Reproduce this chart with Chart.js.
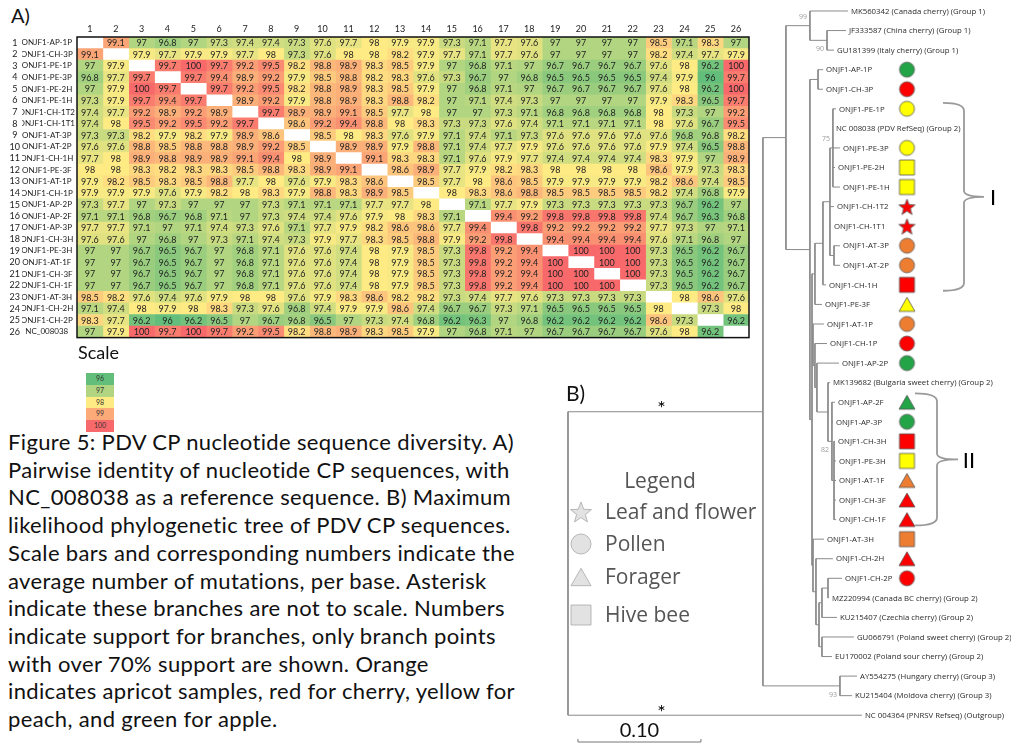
<!DOCTYPE html>
<html><head><meta charset="utf-8">
<script src="https://cdn.jsdelivr.net/npm/chart.js@4.4.1/dist/chart.umd.min.js"></script>
<style>
html,body{margin:0;padding:0;background:#fff;}
#page{position:relative;width:1011px;height:752px;overflow:hidden;background:#fff;font-family:Lato,sans-serif;color:#111;}
.abs{position:absolute;}
#cap{left:8px;top:428px;font-size:22px;letter-spacing:0.35px;line-height:27.7px;white-space:nowrap;}
#scale div{width:28px;height:11.8px;font-size:7px;line-height:11.8px;text-align:center;color:#333;}
</style></head><body>
<div id="page">
  <div class="abs" style="left:11px;top:3px;font-size:20px;">A)</div>
  <canvas id="heat" class="abs" width="756" height="325" style="left:0;top:20px;"></canvas>
  <div class="abs" style="left:78px;top:341px;font-size:18px;">Scale</div>
  <div id="scale" class="abs" style="left:86px;top:373px;"></div>
  <div id="cap" class="abs"></div>
  <canvas id="tree" class="abs" width="451" height="752" style="left:560px;top:0;"></canvas>
  <div class="abs" style="left:566px;top:380px;font-size:21px;">B)</div>
</div>
<script>
// ---------------- DATA ----------------
const rowNames = ['ONJF1-AP-1P','ONJF1-CH-3P','ONJF1-PE-1P','ONJF1-PE-3P','ONJF1-PE-2H','ONJF1-PE-1H','ONJF1-CH-1T2','ONJF1-CH-1T1','ONJF1-AT-3P','ONJF1-AT-2P','ONJF1-CH-1H','ONJF1-PE-3F','ONJF1-AT-1P','ONJF1-CH-1P','ONJF1-AP-2P','ONJF1-AP-2F','ONJF1-AP-3P','ONJF1-CH-3H','ONJF1-PE-3H','ONJF1-AT-1F','ONJF1-CH-3F','ONJF1-CH-1F','ONJF1-AT-3H','ONJF1-CH-2H','ONJF1-CH-2P','NC_008038'];
const rowNumbers = rowNames.map((_, i) => String(i + 1));
const colLabels = rowNames.map((_, i) => String(i + 1));
const identity = [
 [null,99.1,97,96.8,97,97.3,97.4,97.4,97.3,97.6,97.7,98,97.9,97.9,97.3,97.1,97.7,97.6,97,97,97,97,98.5,97.1,98.3,97],
 [99.1,null,97.9,97.7,97.9,97.9,97.7,98,97.3,97.6,98,98,98.2,97.9,97.7,97.1,97.7,97.6,97,97,97,97,98.2,97.4,97.7,97.9],
 [97,97.9,null,99.7,100,99.7,99.2,99.5,98.2,98.8,98.9,98.3,98.5,97.9,97,96.8,97.1,97,96.7,96.7,96.7,96.7,97.6,98,96.2,100],
 [96.8,97.7,99.7,null,99.7,99.4,98.9,99.2,97.9,98.5,98.8,98.2,98.3,97.6,97.3,96.7,97,96.8,96.5,96.5,96.5,96.5,97.4,97.9,96,99.7],
 [97,97.9,100,99.7,null,99.7,99.2,99.5,98.2,98.8,98.9,98.3,98.5,97.9,97,96.8,97.1,97,96.7,96.7,96.7,96.7,97.6,98,96.2,100],
 [97.3,97.9,99.7,99.4,99.7,null,98.9,99.2,97.9,98.8,98.9,98.3,98.8,98.2,97,97.1,97.4,97.3,97,97,97,97,97.9,98.3,96.5,99.7],
 [97.4,97.7,99.2,98.9,99.2,98.9,null,99.7,98.9,98.9,99.1,98.5,97.7,98,97,97,97.3,97.1,96.8,96.8,96.8,96.8,98,97.3,97,99.2],
 [97.4,98,99.5,99.2,99.5,99.2,99.7,null,98.6,99.2,99.4,98.8,98,98.3,97.3,97.3,97.6,97.4,97.1,97.1,97.1,97.1,98,97.6,96.7,99.5],
 [97.3,97.3,98.2,97.9,98.2,97.9,98.9,98.6,null,98.5,98,98.3,97.6,97.9,97.1,97.4,97.1,97.3,97.6,97.6,97.6,97.6,97.6,96.8,96.8,98.2],
 [97.6,97.6,98.8,98.5,98.8,98.8,98.9,99.2,98.5,null,98.9,98.9,97.9,98.8,97.1,97.4,97.7,97.9,97.6,97.6,97.6,97.6,97.9,97.4,96.5,98.8],
 [97.7,98,98.9,98.8,98.9,98.9,99.1,99.4,98,98.9,null,99.1,98.3,98.3,97.1,97.6,97.9,97.7,97.4,97.4,97.4,97.4,98.3,97.9,97,98.9],
 [98,98,98.3,98.2,98.3,98.3,98.5,98.8,98.3,98.9,99.1,null,98.6,98.9,97.7,97.9,98.2,98.3,98,98,98,98,98.6,97.9,97.3,98.3],
 [97.9,98.2,98.5,98.3,98.5,98.8,97.7,98,97.6,97.9,98.3,98.6,null,98.5,97.7,98,98.6,98.5,97.9,97.9,97.9,97.9,98.2,98.6,97.4,98.5],
 [97.9,97.9,97.9,97.6,97.9,98.2,98,98.3,97.9,98.8,98.3,98.9,98.5,null,98,98.3,98.6,98.8,98.5,98.5,98.5,98.5,98.2,97.4,96.8,97.9],
 [97.3,97.7,97,97.3,97,97,97,97.3,97.1,97.1,97.1,97.7,97.7,98,null,97.1,97.7,97.9,97.3,97.3,97.3,97.3,97.3,96.7,96.2,97],
 [97.1,97.1,96.8,96.7,96.8,97.1,97,97.3,97.4,97.4,97.6,97.9,98,98.3,97.1,null,99.4,99.2,99.8,99.8,99.8,99.8,97.4,96.7,96.3,96.8],
 [97.7,97.7,97.1,97,97.1,97.4,97.3,97.6,97.1,97.7,97.9,98.2,98.6,98.6,97.7,99.4,null,99.8,99.2,99.2,99.2,99.2,97.7,97.3,97,97.1],
 [97.6,97.6,97,96.8,97,97.3,97.1,97.4,97.3,97.9,97.7,98.3,98.5,98.8,97.9,99.2,99.8,null,99.4,99.4,99.4,99.4,97.6,97.1,96.8,97],
 [97,97,96.7,96.5,96.7,97,96.8,97.1,97.6,97.6,97.4,98,97.9,98.5,97.3,99.8,99.2,99.4,null,100,100,100,97.3,96.5,96.2,96.7],
 [97,97,96.7,96.5,96.7,97,96.8,97.1,97.6,97.6,97.4,98,97.9,98.5,97.3,99.8,99.2,99.4,100,null,100,100,97.3,96.5,96.2,96.7],
 [97,97,96.7,96.5,96.7,97,96.8,97.1,97.6,97.6,97.4,98,97.9,98.5,97.3,99.8,99.2,99.4,100,100,null,100,97.3,96.5,96.2,96.7],
 [97,97,96.7,96.5,96.7,97,96.8,97.1,97.6,97.6,97.4,98,97.9,98.5,97.3,99.8,99.2,99.4,100,100,100,null,97.3,96.5,96.2,96.7],
 [98.5,98.2,97.6,97.4,97.6,97.9,98,98,97.6,97.9,98.3,98.6,98.2,98.2,97.3,97.4,97.7,97.6,97.3,97.3,97.3,97.3,null,98,98.6,97.6],
 [97.1,97.4,98,97.9,98,98.3,97.3,97.6,96.8,97.4,97.9,97.9,98.6,97.4,96.7,96.7,97.3,97.1,96.5,96.5,96.5,96.5,98,null,97.3,98],
 [98.3,97.7,96.2,96,96.2,96.5,97,96.7,96.8,96.5,97,97.3,97.4,96.8,96.2,96.3,97,96.8,96.2,96.2,96.2,96.2,98.6,97.3,null,96.2],
 [97,97.9,100,99.7,100,99.7,99.2,99.5,98.2,98.8,98.9,98.3,98.5,97.9,97,96.8,97.1,97,96.7,96.7,96.7,96.7,97.6,98,96.2,null]
];
const scaleValues = [96, 97, 98, 99, 100];

const captionLines = [
 'Figure 5: PDV CP nucleotide sequence diversity. A)',
 'Pairwise identity of nucleotide CP sequences, with',
 'NC_008038 as a reference sequence. B) Maximum',
 'likelihood phylogenetic tree of PDV CP sequences.',
 'Scale bars and corresponding numbers indicate the',
 'average number of mutations, per base. Asterisk',
 'indicate these branches are not to scale. Numbers',
 'indicate support for branches, only branch points',
 'with over 70% support are shown. Orange',
 'indicates apricot samples, red for cherry, yellow for',
 'peach, and green for apple.'
];

// tree leaves (top to bottom) and their tip depths (substitutions per site)
const leafNames = ['MK560342 (Canada cherry) (Group 1)','JF333587 (China cherry) (Group 1)','GU181399 (Italy cherry) (Group 1)',
 'ONJF1-AP-1P','ONJF1-CH-3P','ONJF1-PE-1P','NC 008038 (PDV RefSeq) (Group 2)','ONJF1-PE-3P','ONJF1-PE-2H','ONJF1-PE-1H',
 'ONJF1-CH-1T2','ONJF1-CH-1T1','ONJF1-AT-3P','ONJF1-AT-2P','ONJF1-CH-1H','ONJF1-PE-3F','ONJF1-AT-1P','ONJF1-CH-1P','ONJF1-AP-2P',
 'MK139682 (Bulgaria sweet cherry) (Group 2)','ONJF1-AP-2F','ONJF1-AP-3P','ONJF1-CH-3H','ONJF1-PE-3H','ONJF1-AT-1F','ONJF1-CH-3F','ONJF1-CH-1F',
 'ONJF1-AT-3H','ONJF1-CH-2H','ONJF1-CH-2P','MZ220994 (Canada BC cherry) (Group 2)','KU215407 (Czechia cherry) (Group 2)',
 'GU066791 (Poland sweet cherry) (Group 2)','EU170002 (Poland sour cherry) (Group 2)','AY554275 (Hungary cherry) (Group 3)',
 'KU215404 (Moldova cherry) (Group 3)','NC 004364 (PNRSV Refseq) (Outgroup)'];
const leafDepth = [0.2276,0.2260,0.2163,0.2073,0.2073,0.2179,0.2154,0.2211,0.2171,0.2211,
 0.2163,0.2138,0.2211,0.2211,0.2098,0.2065,0.2081,0.2106,0.2203,
 0.2130,0.2171,0.2154,0.2171,0.2179,0.2179,0.2179,0.2179,
 0.2081,0.2154,0.2228,0.2122,0.2187,0.2325,0.2146,0.2350,0.2309,0.2390];
// internal node: [depth, support ('^' = label above), ...children]
const tree = [0, '',
  [0.1585, '',
    [0.1772, '',
      [0.1967, '^99', 0, [0.2106, '90', 1, 2]],
      [0.1967, '',
        [0.2033, '', 3, 4],
        [0.1984, '',
          [0.2008, '',
            [0.2073, '',
              [0.2130, '', [0.2154, '^75', 5, 6, 7, 8, 9], 10, 11, [0.2163, '', 12, 13]],
              14],
            15],
          [0.1992, '', 16,
            [0.2008, '', 17,
              [0.2024, '', 18,
                [0.2114, '', 19, [0.2146, '82', 20, 21, [0.2163, '', 22, 23, 24, 25, 26]]]]]],
          [0.1992, '', 27,
            [0.2016, '', 28,
              [0.2041, '',
                [0.2065, '', [0.2114, '', 29, 30], 31],
                [0.2065, '', 32, 33]]]]
        ]
      ]
    ],
    [0.2211, '93', 34, 35]
  ],
  36
];
const markerLeaf  = [3,4,5,7,8,9,10,11,12,13,14,15,16,17,18,20,21,22,23,24,25,26,27,28,29];
const markerShape = ['circle','circle','circle','circle','square','square','star','star','circle','circle','square','triangle','circle','circle','circle','triangle','circle','square','square','triangle','triangle','triangle','square','triangle','circle'];
const markerHost  = ['apple','cherry','peach','peach','peach','peach','cherry','cherry','apricot','apricot','cherry','peach','apricot','cherry','apple','apple','apple','cherry','peach','apricot','cherry','cherry','apricot','cherry','cherry'];
const legendShapes = ['star','circle','triangle','square'];
const legendLabels = ['Leaf and flower','Pollen','Forager','Hive bee'];
const scaleBarLength = 0.10;

// ---------------- HELPERS ----------------
const hostColor = {apple:'#22a447', cherry:'#ff0000', peach:'#ffff00', apricot:'#ed7d31'};
function mix(a, b, t){ return a.map((v,i)=>Math.round(v+(b[i]-v)*t)); }
function colorFor(v){
  if (v == null) return '#ffffff';
  const g=[99,190,123], y=[255,235,132], r=[248,105,107];
  const c = v <= 98 ? mix(g, y, Math.max(0,(v-96)/2)) : mix(y, r, Math.min(1,(v-98)/2));
  return `rgb(${c[0]},${c[1]},${c[2]})`;
}
function makeShape(shape, fill, stroke, size){
  const pad = 2, c = document.createElement('canvas');
  c.width = c.height = size + pad*2;
  const g = c.getContext('2d'), m = (size + pad*2)/2, r = size/2;
  g.fillStyle = fill; g.strokeStyle = stroke; g.lineWidth = 0.8;
  g.beginPath();
  if (shape === 'circle') g.arc(m, m, r, 0, Math.PI*2);
  else if (shape === 'square') g.rect(m-r, m-r, size, size);
  else if (shape === 'triangle') { const h = size*0.87; g.moveTo(m, m-h/2); g.lineTo(m+r, m+h/2); g.lineTo(m-r, m+h/2); g.closePath(); }
  else if (shape === 'star') {
    for (let k=0;k<10;k++){ const rr = k%2 ? r*0.42 : r; const a = -Math.PI/2 + k*Math.PI/5;
      const px = m + rr*Math.cos(a), py = m + 1 + rr*Math.sin(a); k ? g.lineTo(px,py) : g.moveTo(px,py); }
    g.closePath();
  }
  g.fill(); if (stroke) g.stroke();
  return c;
}

// ---------------- HTML bits ----------------
document.getElementById('cap').innerHTML = captionLines.join('<br>');
const sc = document.getElementById('scale');
scaleValues.forEach(v => { const d = document.createElement('div'); d.textContent = v; d.style.background = colorFor(v); sc.appendChild(d); });

// ---------------- HEATMAP ----------------
const heatFont = {family:'Lato', size:8};
const cellText = {
  id:'cellText',
  afterDatasetsDraw(chart){
    const ctx = chart.ctx; ctx.save();
    ctx.font = '9px Lato'; ctx.fillStyle = '#222'; ctx.textAlign = 'center'; ctx.textBaseline = 'middle';
    chart.data.datasets.forEach((ds, j) => {
      chart.getDatasetMeta(j).data.forEach((el, i) => {
        const v = identity[i][j]; if (v == null) return;
        const p = el.getProps(['x','y','base'], true);
        ctx.fillText(String(v), (p.x + p.base)/2, p.y + 0.5);
      });
    });
    const a = chart.chartArea;
    ctx.lineWidth = 1.5; ctx.strokeStyle = '#111';
    ctx.strokeRect(a.left, a.top, a.right-a.left, a.bottom-a.top);
    ctx.restore();
  }
};
new Chart(document.getElementById('heat'), {
  type:'bar',
  data:{
    labels: rowNames,
    datasets: colLabels.map((c, j) => ({
      label: c,
      data: rowNames.map(() => 1),
      backgroundColor: rowNames.map((_, i) => colorFor(identity[i][j])),
      borderWidth: 0, barPercentage: 1, categoryPercentage: 1, stack: 's'
    }))
  },
  options:{
    indexAxis:'y', responsive:false, animation:false, devicePixelRatio:1,
    layout:{padding:{left:0,right:7,top:0,bottom:4}},
    plugins:{legend:{display:false}, tooltip:{enabled:false}},
    scales:{
      x:{type:'linear', position:'top', stacked:true, min:0, max:26,
        grid:{display:false, drawTicks:false}, border:{display:false},
        afterBuildTicks: ax => { ax.ticks = colLabels.map((_, i) => ({value: i + 0.5})); },
        afterFit: ax => { ax.height = 17; },
        ticks:{autoSkip:false, maxRotation:0, padding:3, color:'#222', font:{family:'Lato', size:9}, callback:(v, i) => colLabels[i]}},
      y:{type:'category', stacked:true, offset:true, weight:0,
        grid:{display:false, drawTicks:false}, border:{display:false},
        afterFit: ax => { ax.width = 55; },
        ticks:{autoSkip:false, crossAlign:'center', padding:2, color:'#222', font:heatFont}},
      yNum:{type:'category', labels: rowNumbers, position:'left', offset:true, weight:1,
        grid:{display:false, drawTicks:false}, border:{display:false},
        afterFit: ax => { ax.width = 22; },
        ticks:{autoSkip:false, crossAlign:'center', padding:2, color:'#222', font:{family:'Lato', size:9}}}
    }
  },
  plugins:[cellText]
});

// ---------------- TREE ----------------
const branchSegs = [], supports = [], nodePos = new Map();
function layout(node){
  if (typeof node === 'number') return {x: leafDepth[node], y: node};
  const [d, s, ...kids] = node;
  const ks = kids.map(layout);
  const y = (ks[0].y + ks[ks.length-1].y) / 2;
  branchSegs.push([d, ks[0].y, d, ks[ks.length-1].y]);
  ks.forEach(k => branchSegs.push([d, k.y, k.x, k.y]));
  if (s) supports.push({x:d, y, s});
  nodePos.set(node, {x:d, y});
  return {x:d, y};
}
layout(tree);
const ingroupPos = nodePos.get(tree[2]);
const MARKER_X = 0.2756;
const markerImgs = markerShape.map((s, k) => makeShape(s, hostColor[markerHost[k]], '#555', s==='star'?17:(s==='triangle'?16:15)));

const treeDeco = {
  id:'treeDeco',
  afterDatasetsDraw(chart){
    const ctx = chart.ctx, xs = chart.scales.x, ys = chart.scales.y;
    ctx.save();
    // leaf labels
    ctx.font = '7.8px "Open Sans"'; ctx.fillStyle = '#2a2a2a'; ctx.textBaseline = 'middle'; ctx.textAlign = 'left';
    leafNames.forEach((n, i) => ctx.fillText(n, xs.getPixelForValue(leafDepth[i]) + 3, ys.getPixelForValue(i) + 0.5));
    // support values
    ctx.font = '7px "Open Sans"'; ctx.fillStyle = '#9a9a9a'; ctx.textAlign = 'right';
    supports.forEach(p => {
      const up = p.s[0] === '^', t = up ? p.s.slice(1) : p.s;
      ctx.fillText(t, xs.getPixelForValue(p.x) - 3, ys.getPixelForValue(p.y) + (up ? -9 : 9));
    });
    // brackets
    ctx.strokeStyle = '#9a9a9a'; ctx.lineWidth = 1.8;
    function brace(i0, i1, xl, xv, xp){
      const t = ys.getPixelForValue(i0), b = ys.getPixelForValue(i1), m = (t+b)/2;
      ctx.beginPath();
      ctx.moveTo(xl, t); ctx.quadraticCurveTo(xv, t, xv, t+8);
      ctx.lineTo(xv, m-6); ctx.quadraticCurveTo(xv, m, xp, m);
      ctx.quadraticCurveTo(xv, m, xv, m+6);
      ctx.lineTo(xv, b-8); ctx.quadraticCurveTo(xv, b, xl, b);
      ctx.stroke();
      return m;
    }
    const m1 = brace(4.7, 14.3, 383, 404, 424);
    const m2 = brace(19.55, 26.3, 355, 377, 398);
    ctx.fillStyle = '#000'; ctx.textAlign = 'center'; ctx.font = '22px Lato';
    ctx.fillText('I', 433, m1 + 1);
    ctx.fillText('II', 409, m2 + 1);
    // asterisks on the not-to-scale branches
    const ax = xs.getPixelForValue(ingroupPos.x / 2) - 4;
    ctx.font = '20px Lato';
    ctx.fillText('*', ax, ys.getPixelForValue(ingroupPos.y) - 3);
    ctx.fillText('*', ax, ys.getPixelForValue(36) - 3);
    // scale bar
    const s0 = xs.getPixelForValue(0.0081), s1 = xs.getPixelForValue(0.0081 + scaleBarLength), sy = 742;
    ctx.strokeStyle = '#777'; ctx.lineWidth = 1;
    ctx.beginPath(); ctx.moveTo(s0, sy-3); ctx.lineTo(s0, sy); ctx.lineTo(s1, sy); ctx.lineTo(s1, sy-3); ctx.stroke();
    ctx.fillStyle = '#111'; ctx.font = '20px Lato';
    ctx.fillText(scaleBarLength.toFixed(2), (s0+s1)/2, 731);
    // legend
    ctx.fillStyle = '#555'; ctx.font = '21px "Open Sans"';
    ctx.fillText('Legend', 100, 482);
    ctx.textAlign = 'left';
    const ly = [512, 544, 577, 615];
    legendShapes.forEach((s, k) => {
      const img = makeShape(s, '#e2e2e2', '#a8a8a8', s==='star'?22:20);
      ctx.drawImage(img, 21 - img.width/2, ly[k] - img.height/2);
      ctx.fillStyle = '#555';
      ctx.fillText(legendLabels[k], 45, ly[k] + 1);
    });
    ctx.restore();
  }
};

new Chart(document.getElementById('tree'), {
  type:'scatter',
  data:{ datasets:[
    ...branchSegs.map(([x1,y1,x2,y2]) => ({data:[{x:x1,y:y1},{x:x2,y:y2}], showLine:true, borderColor:'#8a8a8a', borderWidth:1, pointRadius:0, pointHoverRadius:0, tension:0})),
    {data: markerLeaf.map(l => ({x: MARKER_X, y: l})), pointStyle: markerImgs, pointRadius: 8, showLine:false}
  ]},
  options:{
    responsive:false, animation:false, devicePixelRatio:1,
    layout:{padding:0, autoPadding:false},
    plugins:{legend:{display:false}, tooltip:{enabled:false}},
    scales:{
      x:{type:'linear', display:false, min:-0.0065, max:0.3602},
      y:{type:'linear', display:false, min:-0.562, max:37.88, reverse:true}
    }
  },
  plugins:[treeDeco]
});
</script>
</body></html>
